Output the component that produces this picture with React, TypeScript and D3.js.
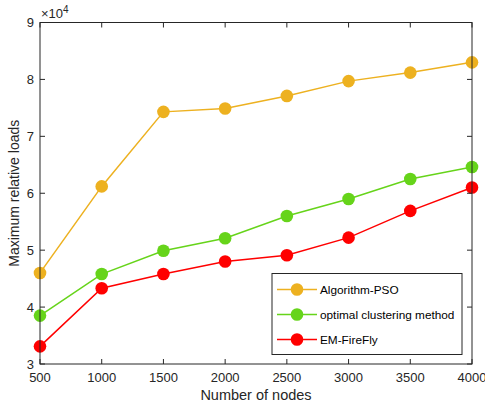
import React from "react";
import * as d3 from "d3";

const nodes = [500, 1000, 1500, 2000, 2500, 3000, 3500, 4000];
const psoValues = [46000, 61200, 74300, 74900, 77100, 79700, 81200, 83000];
const clusteringValues = [38500, 45800, 49900, 52100, 56000, 59000, 62500, 64600];
const fireflyValues = [33100, 43300, 45800, 48000, 49100, 52200, 56900, 61000];
const seriesNames = ["Algorithm-PSO", "optimal clustering method", "EM-FireFly"];
const seriesColors = ["#EDB120", "#66D41A", "#FF0000"];
const yTicks = [3, 4, 5, 6, 7, 8, 9];

const W = 485, H = 406;
const M = { left: 40, right: 13, top: 22.5, bottom: 42 };
const font = "'Liberation Sans', Arial, Helvetica, sans-serif";
const axisColor = "#262626";

export default function App() {
  const x = d3.scaleLinear().domain([500, 4000]).range([M.left, W - M.right]);
  const y = d3.scaleLinear().domain([30000, 90000]).range([H - M.bottom, M.top]);
  const line = d3.line<[number, number]>().x(d => x(d[0])).y(d => y(d[1]));
  const allSeries = [psoValues, clusteringValues, fireflyValues];
  const x0 = M.left, x1 = W - M.right, y0 = H - M.bottom, y1 = M.top;
  const tl = 5;
  const legend = { x: 272, y: 273.5, w: 190, h: 81 };
  return (
    <svg width={W} height={H} style={{ position: "absolute", left: 0, top: 0, background: "#fff" }}>
      <rect x={0} y={0} width={W} height={H} fill="#fff" />
      {allSeries.map((vals, i) => (
        <g key={i}>
          <path d={line(nodes.map((n, j) => [n, vals[j]]) as [number, number][]) || ""} fill="none" stroke={seriesColors[i]} strokeWidth={1.5} />
          {nodes.map((n, j) => (
            <circle key={j} cx={x(n)} cy={y(vals[j])} r={6.3} fill={seriesColors[i]} />
          ))}
        </g>
      ))}
      <rect x={x0} y={y1} width={x1 - x0} height={y0 - y1} fill="none" stroke={axisColor} strokeWidth={1} />
      {nodes.map((n, i) => (
        <g key={i}>
          <line x1={x(n)} x2={x(n)} y1={y0} y2={y0 - tl} stroke={axisColor} />
          <line x1={x(n)} x2={x(n)} y1={y1} y2={y1 + tl} stroke={axisColor} />
          <text x={x(n)} y={y0 + 18} textAnchor="middle" fontFamily={font} fontSize={13} fill={axisColor}>{n}</text>
        </g>
      ))}
      {yTicks.map((t, i) => (
        <g key={i}>
          <line x1={x0} x2={x0 + tl} y1={y(t * 10000)} y2={y(t * 10000)} stroke={axisColor} />
          <line x1={x1} x2={x1 - tl} y1={y(t * 10000)} y2={y(t * 10000)} stroke={axisColor} />
          <text x={x0 - 6} y={y(t * 10000) + 4.5} textAnchor="end" fontFamily={font} fontSize={13} fill={axisColor}>{t}</text>
        </g>
      ))}
      <text x={x0 + 1} y={y1 - 5} fontFamily={font} fontSize={13} fill={axisColor}>
        ×10<tspan dy={-5} fontSize={10}>4</tspan>
      </text>
      <text x={(x0 + x1) / 2} y={H - 6.5} textAnchor="middle" fontFamily={font} fontSize={14.5} fill={axisColor}>Number of nodes</text>
      <text transform={`translate(${19},${(y0 + y1) / 2}) rotate(-90)`} textAnchor="middle" fontFamily={font} fontSize={14} fill={axisColor}>Maximum relative loads</text>
      <rect x={legend.x} y={legend.y} width={legend.w} height={legend.h} fill="#fff" stroke={axisColor} strokeWidth={1} />
      {seriesNames.map((nm, i) => {
        const ly = legend.y + 16 + i * 25;
        return (
          <g key={i}>
            <line x1={legend.x + 5} x2={legend.x + 45} y1={ly} y2={ly} stroke={seriesColors[i]} strokeWidth={1.5} />
            <circle cx={legend.x + 25} cy={ly} r={6.3} fill={seriesColors[i]} />
            <text x={legend.x + 48} y={ly + 4} fontFamily={font} fontSize={11.8} fill="#000">{nm}</text>
          </g>
        );
      })}
    </svg>
  );
}
